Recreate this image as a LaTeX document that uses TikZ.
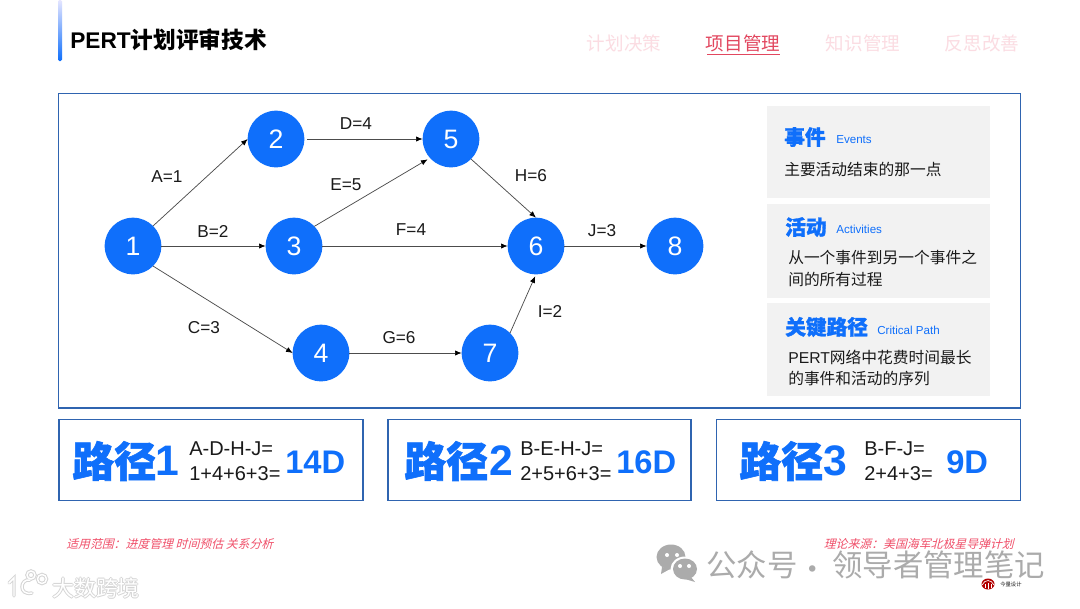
\documentclass[tikz,border=0pt]{standalone}
\usepackage{fontspec}
\setmainfont{Liberation Sans}
\newfontfamily\cjk{Noto Sans CJK SC}
\newfontfamily\cjkh{Noto Sans CJK SC}[BoldFeatures={FakeBold=1.3}]
\newfontfamily\cjkit{Noto Sans CJK SC}[FakeSlant=0.25]
\usetikzlibrary{arrows.meta}
\definecolor{mainblue}{HTML}{0F6FFB}
\definecolor{framec}{HTML}{2F64B0}
\definecolor{panelgray}{HTML}{F2F2F2}
\definecolor{ink}{HTML}{1A1A1A}
\definecolor{navon}{HTML}{E2475F}
\definecolor{navoff}{HTML}{FBDCE2}
\definecolor{noteR}{HTML}{F0506A}
\definecolor{wm}{HTML}{ABABAB}
\definecolor{glow}{HTML}{D4D4D4}
\newcommand{\fs}[1]{\fontsize{#1}{#1}\selectfont}
\tikzset{
  x=0.75pt,y=-0.75pt,
  evt/.style={circle,fill=mainblue,text=white,minimum size=42.5pt,inner sep=0pt,outer sep=0pt,font=\fs{20}},
  arr/.style={draw=black!70,line width=0.55pt,-{Latex[length=5pt,width=4pt,black]}},
  lbl/.style={font=\fs{12.9},text=ink,inner sep=0pt},
  framebox/.style={draw=framec,line width=0.8pt,fill=white},
  panel/.style={fill=panelgray,draw=none},
  nav/.style={font=\cjk\fs{13.9},inner sep=0pt},
  head/.style={font=\cjkh\bfseries\fs{15.5},text=mainblue,inner sep=0pt,anchor=west},
  sub/.style={font=\fs{8.7},text=mainblue,inner sep=0pt,anchor=west},
  body/.style={font=\fs{11.8},text=ink,inner sep=0pt,anchor=west},
  bigp/.style={font=\cjkh\bfseries\fs{31.5},text=mainblue,inner sep=0pt},
  bign/.style={font=\bfseries\fs{32},text=mainblue,inner sep=0pt},
  res/.style={font=\bfseries\fs{24.5},text=mainblue,inner sep=0pt},
  calc/.style={font=\fs{15},text=ink,inner sep=0pt,anchor=west},
  note/.style={font=\cjkit\fs{8.9},text=noteR,inner sep=0pt},
  wmk/.style={font=\cjk\fs{22.8},text=wm,inner sep=0pt,anchor=west},
  halo/.style={inner sep=0pt,anchor=west,font=\cjk\fs{16.4},text=glow},
}
\begin{document}
\begin{tikzpicture}
\useasboundingbox (0,0) rectangle (1080,608);
\fill[white] (0,0) rectangle (1080,608);
% title bar
\shade[top color=blue!10!white,bottom color=mainblue,rounded corners=1pt] (58,0) rectangle (62,61);
\node[inner sep=0pt,anchor=west,font=\bfseries\fs{17},text=black] (title) at (70,40) {PERT{\cjk 计划评审技术}};
% navigation
\node[nav,text=navoff] (n1) at (624,43) {计划决策};
\node[nav,text=navon] (n2) at (743,43) {项目管理};
\node[nav,text=navoff] (n3) at (863,43) {知识管理};
\node[nav,text=navoff] (n4) at (982,43) {反思改善};
\draw[navon,line width=0.5pt] (707,54) -- (780,54);
% main frame
\draw[framebox] (58.5,93.5) rectangle (1020.5,408);
% graph
\node[evt] (e1) at (133,246) {1};
\node[evt] (e2) at (276,139) {2};
\node[evt] (e3) at (294,246) {3};
\node[evt] (e4) at (321,353) {4};
\node[evt] (e5) at (451,139) {5};
\node[evt] (e6) at (536,246) {6};
\node[evt] (e7) at (490,353) {7};
\node[evt] (e8) at (675,246) {8};
\draw[arr] (e1.45) -- (e2.west);
\draw[arr] (e1) -- (e3);
\draw[arr] (e1.-45) -- (e4.west);
\draw[arr,shorten <=2pt] (e2) -- (e5);
\draw[arr,shorten >=2pt] (e3.44) -- (e5.222);
\draw[arr] (e3) -- (e6);
\draw[arr] (e4) -- (e7);
\draw[arr] (e5.-45) -- (e6.north);
\draw[arr,shorten >=1.5pt] (e7.45) -- (e6.south);
\draw[arr] (e6) -- (e8);
\node[lbl] (la) at (167,177) {A=1};
\node[lbl] (lb) at (213,231) {B=2};
\node[lbl] (lc) at (204,328) {C=3};
\node[lbl] (ld) at (356,124) {D=4};
\node[lbl] (le) at (346,185) {E=5};
\node[lbl] (lf) at (411,230) {F=4};
\node[lbl] (lg) at (399,338) {G=6};
\node[lbl] (lh) at (531,176) {H=6};
\node[lbl] (li) at (550,311) {I=2};
\node[lbl] (lj) at (602,231) {J=3};
% side panels
\fill[panel] (767,106) rectangle (990,198);
\fill[panel] (767,204) rectangle (990,298);
\fill[panel] (767,303) rectangle (990,396);
\node[head] (h1) at (784,137) {事件};
\node[sub] (s1) at (836,140) {Events};
\node[body] (b1) at (784,169) {\cjk 主要活动结束的那一点};
\node[head] (h2) at (785,227) {活动};
\node[sub] (s2) at (836,229) {Activities};
\node[body] (b2) at (788,257) {\cjk 从一个事件到另一个事件之};
\node[body] (b2b) at (788,279) {\cjk 间的所有过程};
\node[head] (h3) at (785,327) {关键路径};
\node[sub] (s3) at (877,330) {Critical Path};
\node[body] (b3) at (788,357) {PERT{\cjk 网络中花费时间最长}};
\node[body] (b3b) at (788,379) {\cjk 的事件和活动的序列};
% path boxes
\draw[framebox] (59,419.5) rectangle (363,500.5);
\draw[framebox] (388,419.5) rectangle (691,500.5);
\draw[framebox] (716.5,419.5) rectangle (1020.5,500.5);
\node[bigp,anchor=west] (p1) at (72,461) {路径};
\node[bign,anchor=west] (p1n) at (155,461) {1};
\node[calc] (c1a) at (189,449) {A-D-H-J=};
\node[calc] (c1b) at (189,474) {1+4+6+3=};
\node[res,anchor=west] (r1) at (285,462) {14D};
\node[bigp,anchor=west] (p2) at (404,461) {路径};
\node[bign,anchor=west] (p2n) at (489,461) {2};
\node[calc] (c2a) at (520,449) {B-E-H-J=};
\node[calc] (c2b) at (520,474) {2+5+6+3=};
\node[res,anchor=west] (r2) at (616,462) {16D};
\node[bigp,anchor=west] (p3) at (739,461) {路径};
\node[bign,anchor=west] (p3n) at (823,461) {3};
\node[calc] (c3a) at (864,449) {B-F-J=};
\node[calc] (c3b) at (864,474) {2+4+3=};
\node[res,anchor=west] (r3) at (946,462) {9D};
% notes
\node[note,anchor=west] (na) at (66,544) {适用范围：进度管理 时间预估 关系分析};
\node[note,anchor=east] (nb) at (1014,544) {理论来源：美国海军北极星导弹计划};
% WeChat mark and account watermark
\fill[wm] (671,557) ellipse (14.5 and 12.5);
\fill[wm] (662,567) -- (661,574) -- (670,569) -- cycle;
\fill[white] (685,569) ellipse (14.5 and 12.5);
\fill[wm] (685,569) ellipse (12 and 10.5);
\fill[wm] (691,577) -- (695,582) -- (685,579) -- cycle;
\foreach \cx/\cy in {667/555,677/555,680/566,689/566}
  \fill[white] (\cx,\cy) circle (2);
\node[wmk] (w1) at (706,565) {公众号};
\node[wmk,anchor=center] (w1d) at (813,573) {·};
\node[wmk] (w1b) at (832,565) {领导者管理笔记};
% lower-left watermark
\foreach \dx/\dy/\nm in {-1/0/a,1/0/b,0/-1/c,0/1/d}
  \node[halo] (wg\nm) at (52+\dx,588+\dy) {大数跨境};
\node[halo,text=white] (w2) at (52,588) {大数跨境};
\begin{scope}[line cap=round]
\foreach \c/\w in {glow/2.6pt,white/1.1pt}{
  \draw[\c,line width=\w] (9,583) -- (14,578) -- (14,596);
  \draw[\c,line width=\w] (30,580) .. controls (20,578) and (18,596) .. (32,593);
  \draw[\c,line width=\w] (31,575) circle (4);
  \draw[\c,line width=\w] (42,579) circle (4.5);
}
\end{scope}
% small logo
\fill[red!70!black] (988,584) ellipse (6.5 and 5.5);
\draw[white,line width=0.5pt] (982,585) .. controls (985,579) and (991,579) .. (994,585);
\draw[white,line width=0.5pt] (985,588) -- (985,584) (988,589) -- (988,583) (991,588) -- (991,584);
\node[inner sep=0pt,anchor=west,font=\cjk\fs{4},text=ink] (logo) at (1000,584) {今量设计};
\end{tikzpicture}
\end{document}
